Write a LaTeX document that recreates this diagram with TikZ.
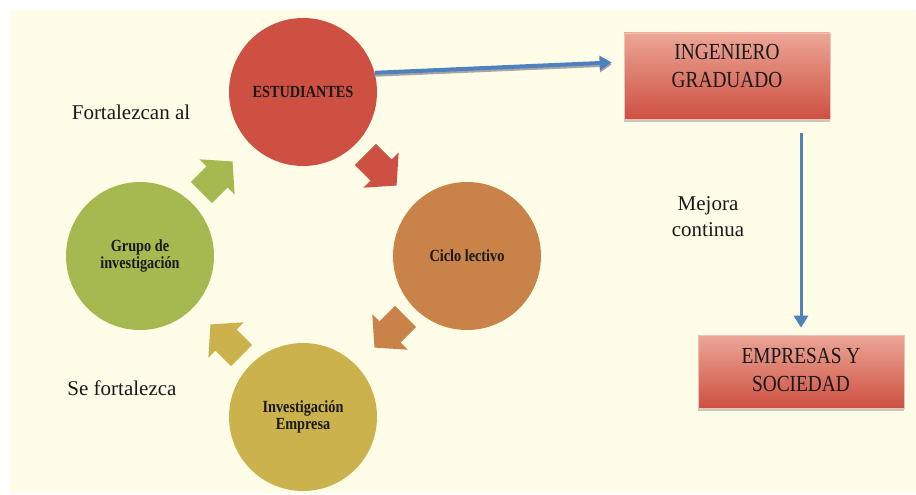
\documentclass[tikz,border=0pt]{standalone}
\usepackage{fontspec}
\setmainfont{Liberation Serif}
\newfontfamily\narrowserif[FakeStretch=0.84]{Liberation Serif}
\usetikzlibrary{arrows.meta,shadows}

\definecolor{bgcream}{RGB}{255,253,232}
\definecolor{estred}{RGB}{205,80,66}
\definecolor{cicloorange}{RGB}{201,131,72}
\definecolor{investgold}{RGB}{203,178,76}
\definecolor{grupogreen}{RGB}{166,185,80}
\definecolor{boxtop}{RGB}{236,166,150}
\definecolor{linkblue}{RGB}{79,129,189}
\definecolor{txtdark}{RGB}{25,25,25}

\begin{document}
\begin{tikzpicture}[x=1pt, y=-1pt,
	every node/.style={text=txtdark},
	circ/.style={circle, minimum size=148pt, inner sep=0pt, align=center, font=\narrowserif\fontsize{17}{16.5}\selectfont\bfseries},
	resbox/.style={rectangle, minimum width=206pt, inner sep=0pt, top color=boxtop, bottom color=estred, draw=boxtop!70!white, line width=0.6pt, drop shadow={shadow xshift=0pt, shadow yshift=-3pt, fill=black!35, opacity=0.6}},
	boxtxt/.style={align=center, font=\narrowserif\fontsize{23}{28}\selectfont},
	lbl/.style={font=\fontsize{21}{26}\selectfont, align=center},
	bluearrow/.style={draw=linkblue, line width=#1, -{Triangle[length=12pt, width=14pt]}}]
	\useasboundingbox (0,0) rectangle (916,495);
	\fill[bgcream] (10,10) rectangle (916,493);

	% ciclo
	\node[circ, fill=estred] (est) at (303,92) {ESTUDIANTES};
	\node[circ, fill=cicloorange] (ciclo) at (467,256) {Ciclo lectivo};
	\node[circ, fill=investgold] (invemp) at (303,417) {Investigación\\Empresa};
	\node[circ, fill=grupogreen] (grupo) at (140,256) {Grupo de\\investigación};

	% flechas del ciclo
	\foreach \px/\py/\ang/\col in {381/170/-45/estred, 390/332/-135/cicloorange, 226/340/135/investgold, 217/177/45/grupogreen}
		\fill[\col, shift={(\px,\py)}, rotate=\ang] (-22,-15) -- (0,-15) -- (0,-25) -- (22,0) -- (0,25) -- (0,15) -- (-22,15) -- cycle;

	\node[lbl] (fort) at (131,112) {Fortalezcan al};
	\node[lbl] (sefort) at (122,388) {Se fortalezca};

	% resultados
	\node[resbox, minimum height=86pt, label={[boxtxt, yshift=10pt]center:INGENIERO\\GRADUADO}] (ing) at (727,76) {};
	\node[resbox, minimum height=73pt, label={[boxtxt, yshift=2pt]center:EMPRESAS Y\\SOCIEDAD}] (emp) at (801,371.5) {};
	\node[lbl] (mejora) at (708,217) {Mejora\\continua};

	\draw[draw=black!35, line width=4pt, -{Triangle[length=12pt, width=14pt]}, shorten >=12pt, transform canvas={yshift=-2pt}] (est.15) -- ([yshift=14pt]ing.west);
	\draw[bluearrow=4pt, shorten >=12pt] (est.15) -- ([yshift=14pt]ing.west);
	\draw[bluearrow=3pt, shorten <=14pt, shorten >=7pt] (ing.south -| emp.north) -- (emp.north);
\end{tikzpicture}
\end{document}
